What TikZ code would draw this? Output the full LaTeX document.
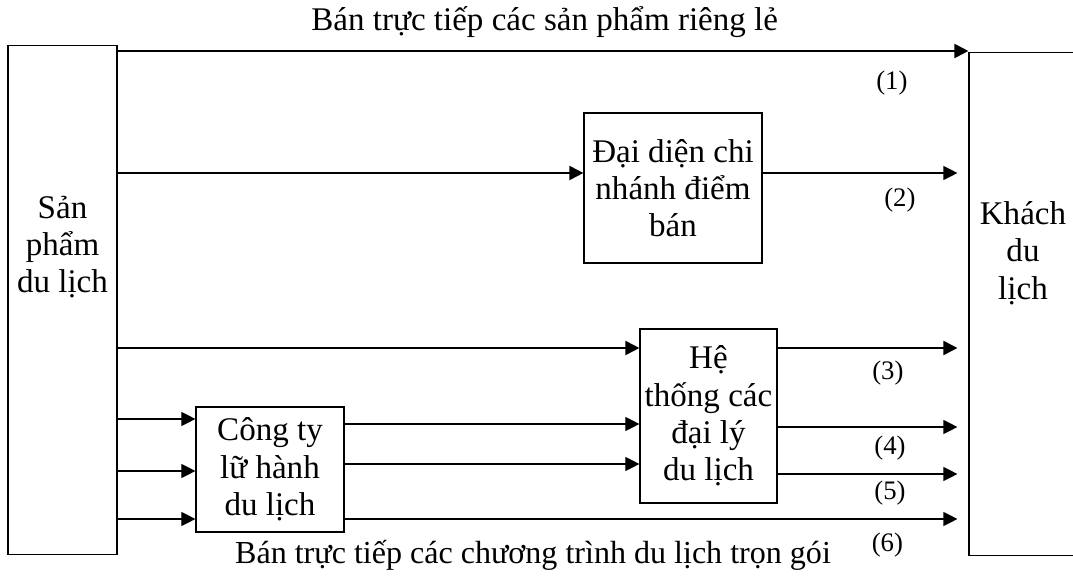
\documentclass[tikz,border=0pt]{standalone}
\usepackage{fontspec}
\setmainfont{Liberation Serif}
\usetikzlibrary{arrows.meta, positioning, calc}

\newcommand{\bigtext}{\fontsize{23.5}{26.5}\selectfont}
\newcommand{\numtext}{\fontsize{19}{22}\selectfont}

\begin{document}
\begin{tikzpicture}[
  x=0.025cm, y=-0.025cm,
  box/.style = {draw, line width=0.8pt, inner sep=1pt, align=center, font=\bigtext},
  arrow/.style = {line width=0.9pt, -{Triangle[length=10pt, width=10pt]}},
  boldarrow/.style = {arrow, line width=1.4pt},
  num/.style = {font=\numtext}
]
  \useasboundingbox (0,0) rectangle (1073,577);
  \clip (0,0) rectangle (1073,577);

  % Tourism product
  \node[box, minimum width=2.725cm, minimum height=12.7cm] (product) at (62.5,300) {};
  \node[align=center, font=\bigtext] (producttext) at (62.5,247) {Sản\\phẩm\\du lịch};

  % Tourist (box runs past the right margin)
  \node[box, minimum width=2.7cm, minimum height=12.55cm] (tourist) at (1023,304) {};
  \node[align=center, font=\bigtext] (touristtext) at (1023,253) {Khách\\du\\lịch};

  % Intermediaries
  \node[box, minimum width=4.45cm, minimum height=3.75cm] (branch) at (673,188) {Đại diện chi\\nhánh điểm\\bán};
  \node[box, minimum width=3.425cm, minimum height=4.35cm] (agents) at (708.5,416) {Hệ\\thống các\\đại lý\\du lịch};
  \node[box, minimum width=3.7cm, minimum height=3.125cm] (operator) at (270,469.5) {Công ty\\lữ hành\\du lịch};

  % heights of the channels
  \coordinate (row1) at (0,51);
  \coordinate (row2) at (0,173);
  \coordinate (row3) at (0,348);
  \coordinate (row4) at (0,427);
  \coordinate (row5) at (0,474);
  \coordinate (row6) at (0,519);
  \coordinate (in1) at (0,419);
  \coordinate (in2) at (0,471);
  \coordinate (out1) at (0,424);
  \coordinate (out2) at (0,464);

  % channel (1)
  \draw[boldarrow] (product.east |- row1) --
    node[pos=0.502, yshift=0.725cm, font=\bigtext] {Bán trực tiếp các sản phẩm riêng lẻ}
    node[num, pos=0.91, yshift=-0.8cm] {(1)} (tourist.west |- row1);

  % channel (2)
  \draw[boldarrow] (product.east |- row2) -- (branch.west |- row2);
  \draw[arrow, shorten >=0.275cm] (branch.east |- row2) --
    node[num, pos=0.667, yshift=-0.675cm] {(2)} (tourist.west |- row2);

  % channel (3)
  \draw[boldarrow] (product.east |- row3) -- (agents.west |- row3);
  \draw[boldarrow, shorten >=0.275cm] (agents.east |- row3) --
    node[num, pos=0.578, yshift=-0.625cm] {(3)} (tourist.west |- row3);

  % product -> operator
  \foreach \r in {in1, in2, row6}
    \draw[arrow] (product.east |- \r) -- (operator.west |- \r);

  % operator -> agents
  \draw[arrow] (operator.east |- out1) -- (agents.west |- out1);
  \draw[arrow] (operator.east |- out2) -- (agents.west |- out2);

  % channels (4) and (5)
  \draw[arrow, shorten >=0.275cm] (agents.east |- row4) --
    node[num, pos=0.589, yshift=-0.525cm] {(4)} (tourist.west |- row4);
  \draw[arrow, shorten >=0.275cm] (agents.east |- row5) --
    node[num, pos=0.589, yshift=-0.475cm] {(5)} (tourist.west |- row5);

  % channel (6)
  \draw[arrow, shorten >=0.275cm] (operator.east |- row6) --
    node[pos=0.302, yshift=-0.9cm, font=\fontsize{22.8}{26}\selectfont] {Bán trực tiếp các chương trình du lịch trọn gói}
    node[num, pos=0.870, yshift=-0.65cm] {(6)} (tourist.west |- row6);

\end{tikzpicture}
\end{document}
